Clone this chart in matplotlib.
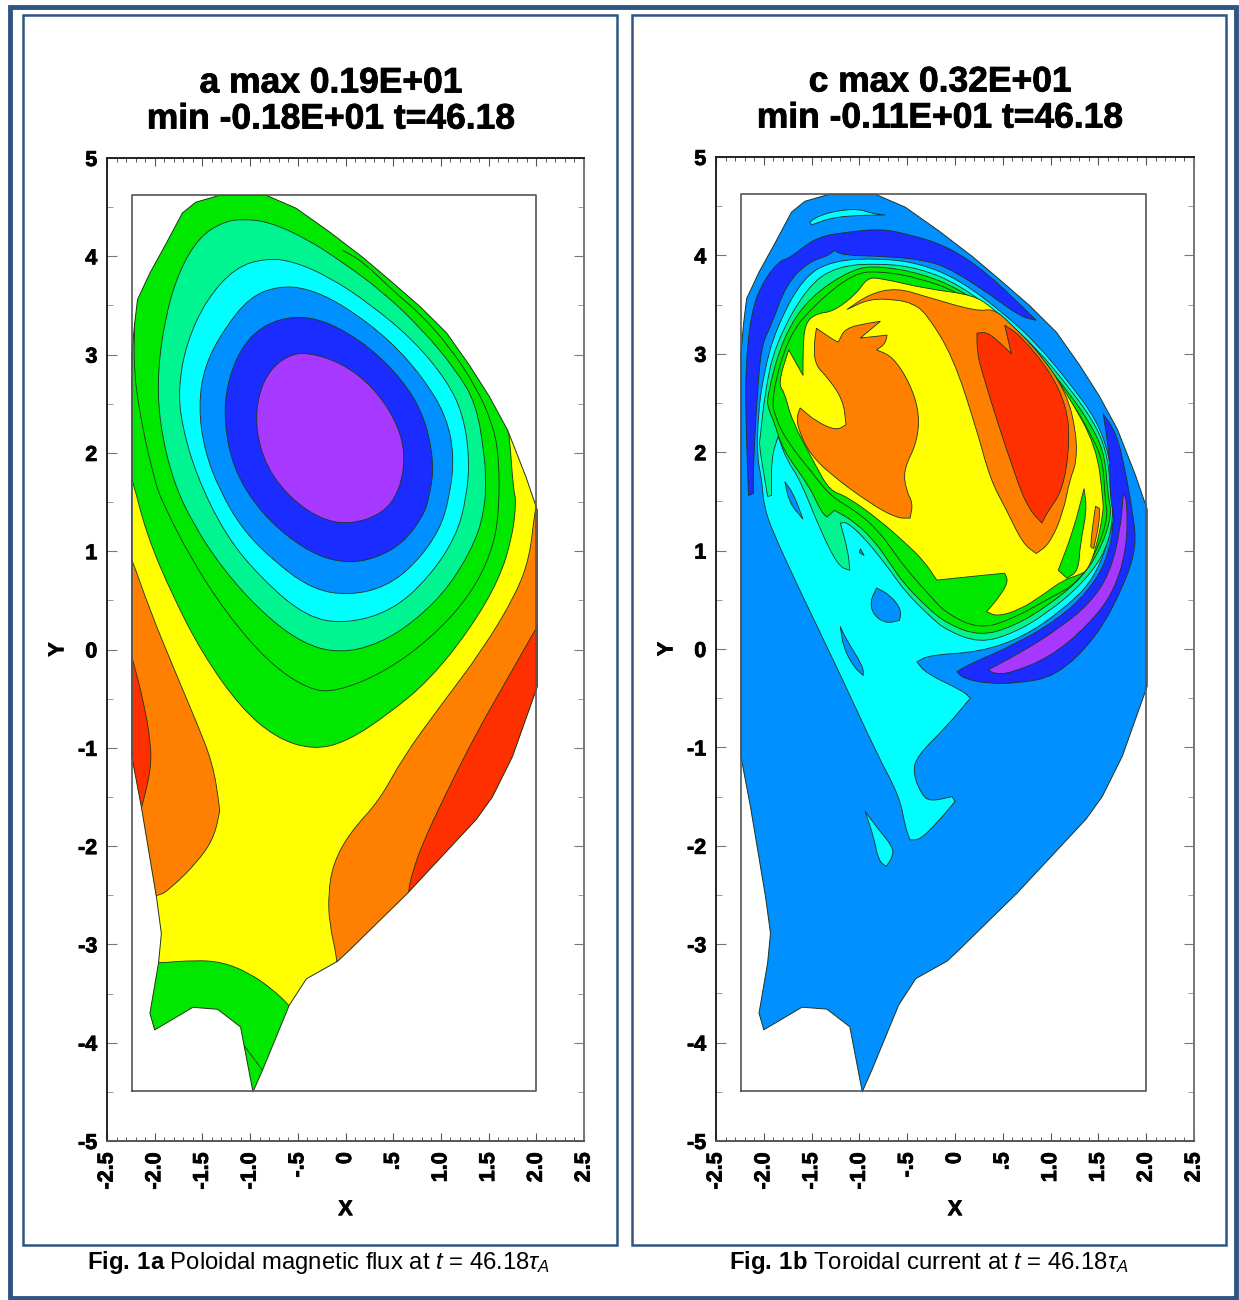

# Two contour panels: poloidal flux (a) and toroidal current (b)
import math
import matplotlib
matplotlib.use("Agg")
import matplotlib.pyplot as plt
import matplotlib.patheffects as pe
from matplotlib.patches import PathPatch, Rectangle
from matplotlib.path import Path
from matplotlib.ticker import MultipleLocator
from matplotlib.transforms import ScaledTranslation

plt.rcParams['font.family'] = ['Liberation Sans', 'DejaVu Sans']
plt.rcParams['mathtext.fontset'] = 'custom'
plt.rcParams['mathtext.rm'] = 'Liberation Sans'
plt.rcParams['mathtext.it'] = 'Liberation Sans:italic'
plt.rcParams['mathtext.bf'] = 'Liberation Sans:bold'
plt.rcParams['mathtext.fallback'] = 'stix'

# Colours of the contour bands
GREEN = '#00e800'
SPRING = '#00f590'
CYAN = '#00ffff'
SKY = '#0090ff'
BLUE = '#1a2cff'
PURPLE = '#a638ff'
YELLOW = '#ffff00'
ORANGE = '#ff8000'
RED = '#ff3000'
EDGE = '#1f331f'

# Text
title_a = "a max 0.19E+01\nmin -0.18E+01 t=46.18"
title_c = "c max 0.32E+01\nmin -0.11E+01 t=46.18"
caption_a = r"$\mathbf{Fig.\,1a}$ Poloidal magnetic flux at $t$ = 46.18$\tau_A$"
caption_b = r"$\mathbf{Fig.\,1b}$ Toroidal current at $t$ = 46.18$\tau_A$"
x_ticks = [-2.5, -2.0, -1.5, -1.0, -0.5, 0, 0.5, 1.0, 1.5, 2.0, 2.5]
x_tick_labels = ['-2.5', '-2.0', '-1.5', '-1.0', '-.5', '0', '.5', '1.0', '1.5', '2.0', '2.5']
y_ticks = [-5, -4, -3, -2, -1, 0, 1, 2, 3, 4, 5]

# Grid box and plasma outline, shared by the panels
box_x = [-2.24, 2.0]
box_y = [-4.49, 4.62]
outline = [(-2.24, 3.0), (-2.21, 3.32), (-2.18, 3.56), (-2.05, 3.83), (-1.88, 4.13), (-1.71, 4.44), (-1.57, 4.55),
           (-1.32, 4.62), (-0.83, 4.62), (-0.52, 4.49), (-0.17, 4.25), (0.18, 3.99), (0.46, 3.76), (0.78, 3.49),
           (1.06, 3.22), (1.3, 2.89), (1.51, 2.57), (1.7, 2.23), (1.89, 1.76), (2.01, 1.42), (2.01, -0.38),
           (1.75, -1.09), (1.54, -1.5), (1.37, -1.73), (0.65, -2.48), (0.04, -3.06), (-0.08, -3.17), (-0.41, -3.35),
           (-0.59, -3.62), (-0.87, -4.28), (-0.97, -4.5), (-1.1, -3.84), (-1.34, -3.66), (-1.6, -3.64), (-2.0, -3.87),
           (-2.05, -3.7), (-1.96, -3.19), (-1.93, -2.89), (-1.98, -2.53), (-2.14, -1.6), (-2.24, -1.09)]

# Panel a contours
a_green = [(-2.5, 2.4), (-2.25, 1.8), (-2.09, 1.18), (-1.81, 0.54), (-1.5, -0.04), (-1.11, -0.58), (-0.73, -0.9), (-0.34, -1.02),
           (0.01, -0.94), (0.46, -0.65), (0.88, -0.31), (1.3, 0.2), (1.61, 0.71), (1.75, 1.15), (1.79, 1.52), (1.76, 1.62),
           (1.72, 2.16), (1.7, 2.23), (2.5, 2.9), (2.5, 5), (-2.6, 5)]
a_green_line = [(-2.21, 3.32), (-2.22, 2.84), (-2.14, 2.3), (-2.0, 1.72), (-1.93, 1.52), (-1.63, 0.94), (-1.25, 0.37),
                (-0.8, -0.14), (-0.38, -0.41), (-0.1, -0.43), (0.39, -0.24), (0.88, 0.1), (1.3, 0.54), (1.53, 0.98),
                (1.61, 1.38), (1.61, 1.96), (1.54, 2.3), (1.37, 2.67), (1.09, 3.08), (0.78, 3.42), (0.53, 3.62),
                (0.18, 3.95), (-0.03, 4.06)]
a_spring = [(-1.08, 4.38), (-0.8, 4.35), (-0.41, 4.18), (-0.03, 3.94), (0.39, 3.64), (0.81, 3.25), (1.16, 2.84), (1.37, 2.5),
            (1.46, 1.96), (1.47, 1.69), (1.46, 1.45), (1.37, 1.11), (1.09, 0.64), (0.74, 0.3), (0.36, 0.06), (-0.06, -0.04),
            (-0.45, 0.06), (-0.87, 0.37), (-1.28, 0.81), (-1.6, 1.28), (-1.81, 1.72), (-1.95, 2.3), (-1.97, 2.84), (-1.88, 3.42),
            (-1.74, 3.86), (-1.53, 4.2), (-1.28, 4.35)]
a_cyan = [(-0.83, 3.98), (-0.55, 3.95), (-0.17, 3.79), (0.25, 3.52), (0.71, 3.15), (1.06, 2.74), (1.23, 2.4), (1.3, 1.96),
          (1.27, 1.55), (1.16, 1.15), (0.88, 0.74), (0.5, 0.4), (0.01, 0.26), (-0.41, 0.33), (-0.87, 0.71), (-1.25, 1.15),
          (-1.56, 1.76), (-1.72, 2.3), (-1.75, 2.67), (-1.67, 3.11), (-1.46, 3.56), (-1.15, 3.89)]
a_sky = [(-0.69, 3.7), (-0.38, 3.67), (0, 3.49), (0.46, 3.15), (0.81, 2.77), (1.06, 2.37), (1.14, 1.96), (1.09, 1.55),
         (0.99, 1.22), (0.74, 0.88), (0.43, 0.64), (0.04, 0.55), (-0.34, 0.61), (-0.73, 0.88), (-1.08, 1.22), (-1.32, 1.62),
         (-1.48, 2.03), (-1.54, 2.47), (-1.48, 2.88), (-1.28, 3.25), (-1.0, 3.59)]
a_blue = [(-0.52, 3.4), (-0.17, 3.33), (0.25, 3.08), (0.6, 2.74), (0.83, 2.37), (0.93, 1.89), (0.88, 1.55), (0.81, 1.35),
          (0.6, 1.08), (0.32, 0.93), (0.04, 0.88), (-0.27, 0.94), (-0.62, 1.15), (-0.95, 1.47), (-1.18, 1.86), (-1.27, 2.3),
          (-1.25, 2.67), (-1.11, 3.05), (-0.87, 3.3)]
a_purple = [(-0.38, 3.02), (-0.03, 2.91), (0.29, 2.67), (0.53, 2.33), (0.63, 1.99), (0.57, 1.62), (0.39, 1.38), (0.04, 1.27),
            (-0.27, 1.33), (-0.59, 1.55), (-0.83, 1.86), (-0.94, 2.23), (-0.92, 2.57), (-0.8, 2.84), (-0.59, 3.0)]
a_orange_left = [(-2.5, 1.55), (-2.25, 0.95), (-2.05, 0.4), (-1.81, -0.17), (-1.57, -0.72), (-1.39, -1.16), (-1.32, -1.6), (-1.32, -1.67),
                 (-1.39, -1.94), (-1.57, -2.18), (-1.81, -2.41), (-1.98, -2.53), (-2.6, -2.53)]
a_red_left = [(-2.5, 0.75), (-2.25, -0.03), (-2.12, -0.51), (-2.04, -0.95), (-2.04, -1.23), (-2.14, -1.62), (-2.6, -1.62)]
a_orange_right = [(2.1, 2.1), (1.98, 1.38), (1.93, 0.94), (1.79, 0.57), (1.44, 0.0), (0.99, -0.58), (0.6, -1.1), (0.36, -1.53), (0.04, -1.87),
                  (-0.13, -2.18), (-0.18, -2.48), (-0.17, -2.79), (-0.08, -3.17), (-0.08, -3.6), (2.6, -3.6), (2.6, 2.1)]
a_red_right = [(2.25, 0.62), (2.01, 0.24), (1.75, -0.21), (1.37, -0.85), (1.02, -1.53), (0.81, -1.97), (0.71, -2.24), (0.65, -2.48), (0.65, -3.0),
               (2.6, -3.0), (2.6, 0.62)]
a_green_bottom = [(-2.5, -3.2), (-1.96, -3.19), (-1.57, -3.16), (-1.29, -3.18), (-1.01, -3.29), (-0.76, -3.46), (-0.59, -3.62), (-0.3, -3.95),
                  (-0.3, -4.7), (-2.5, -4.7)]
a_green_bottom_line = [(-1.07, -4.02), (-0.87, -4.28)]

# Panel b contours
c_blue_top = [(-2.16, 1.56), (-2.19, 2.39), (-2.19, 2.87), (-2.13, 3.44), (-2.0, 3.75), (-1.83, 3.95), (-1.73, 3.97),
              (-1.45, 4.19), (-1.1, 4.24), (-0.78, 4.27), (-0.51, 4.22), (-0.09, 4.1), (0.33, 3.83), (0.85, 3.34),
              (0.68, 3.38), (0.4, 3.58), (-0.02, 3.85), (-0.3, 3.95), (-0.71, 3.99), (-1.17, 4.0), (-1.26, 4.05),
              (-1.34, 3.99), (-1.52, 3.94), (-1.76, 3.72), (-1.93, 3.27), (-2.02, 3.1), (-2.07, 2.6), (-2.11, 1.85),
              (-2.11, 1.58)]
c_cyan_top = [(-1.52, 4.34), (-1.41, 4.41), (-1.2, 4.46), (-0.99, 4.47), (-0.89, 4.43), (-0.73, 4.41), (-0.92, 4.41),
              (-1.27, 4.39), (-1.5, 4.31)]
c_cyan = [(-2.07, 1.95), (-2.06, 2.39), (-2.0, 2.8), (-1.88, 3.24), (-1.59, 3.78), (-1.27, 3.95), (-0.78, 3.97),
          (-0.37, 3.92), (0.05, 3.75), (0.51, 3.41), (0.85, 3.11), (1.2, 2.7), (1.48, 2.33), (1.62, 1.95), (1.66, 1.55),
          (1.69, 1.38), (1.48, 0.73), (1.13, 0.4), (0.71, 0.12), (0.26, -0.03), (-0.26, -0.06), (-0.4, -0.13),
          (-0.3, -0.25), (0.09, -0.43), (0.16, -0.5), (-0.09, -0.79), (-0.4, -1.09), (-0.44, -1.26), (-0.35, -1.48),
          (-0.26, -1.55), (-0.03, -1.5), (0.0, -1.55), (-0.19, -1.77), (-0.37, -1.94), (-0.47, -1.94), (-0.52, -1.81),
          (-0.58, -1.5), (-0.82, -1.06), (-1.17, -0.32), (-1.66, 0.67), (-1.9, 1.18), (-2.0, 1.45), (-2.02, 1.72)]
c_cyan_island = [(-0.94, -1.65), (-0.82, -1.81), (-0.65, -2.01), (-0.65, -2.11), (-0.72, -2.21), (-0.8, -2.15), (-0.85, -1.91)]
c_sky_blob = [(-0.82, 0.62), (-0.68, 0.55), (-0.56, 0.4), (-0.58, 0.29), (-0.72, 0.26), (-0.85, 0.34), (-0.89, 0.48)]
c_sky_sliver = [(-1.2, 0.23), (-1.15, 0.12), (-0.96, -0.18), (-0.96, -0.27), (-1.06, -0.18), (-1.17, 0.02)]
c_sky_small = [(-1.78, 1.7), (-1.69, 1.58), (-1.59, 1.32), (-1.73, 1.48)]
c_sky_tiny = [(-0.99, 1.02), (-0.95, 0.95), (-1.0, 0.98)]
c_spring = [(-2.04, 2.12), (-1.99, 2.6), (-1.88, 3.1), (-1.55, 3.68), (-1.24, 3.89), (-0.78, 3.92), (-0.37, 3.87),
            (0.05, 3.7), (0.51, 3.36), (0.85, 3.06), (1.2, 2.65), (1.48, 2.27), (1.6, 1.95), (1.63, 1.55), (1.66, 1.38),
            (1.59, 1.01), (1.34, 0.67), (0.96, 0.36), (0.61, 0.16), (0.26, 0.06), (-0.09, 0.19), (-0.26, 0.33),
            (-0.51, 0.57), (-0.68, 0.8), (-0.79, 0.94), (-0.96, 1.14), (-1.13, 1.29), (-1.2, 1.28), (-1.12, 1.0),
            (-1.1, 0.8), (-1.22, 0.84), (-1.41, 1.21), (-1.62, 1.72), (-1.76, 1.92), (-1.85, 2.16), (-1.92, 1.95),
            (-1.92, 1.56), (-1.96, 1.55), (-2.0, 1.78), (-2.05, 2.09)]
c_green = [(-1.97, 2.56), (-1.8, 3.17), (-1.52, 3.58), (-1.06, 3.87), (-0.78, 3.89), (-0.37, 3.82), (0.05, 3.66),
           (0.51, 3.33), (0.85, 3.0), (1.2, 2.6), (1.46, 2.22), (1.57, 1.95), (1.6, 1.55), (1.64, 1.38), (1.55, 1.07),
           (1.34, 0.73), (0.96, 0.43), (0.61, 0.23), (0.26, 0.13), (-0.09, 0.26), (-0.3, 0.43), (-0.54, 0.67),
           (-0.68, 0.87), (-0.82, 1.07), (-1.03, 1.28), (-1.26, 1.41), (-1.34, 1.34), (-1.41, 1.41), (-1.52, 1.65),
           (-1.8, 2.02), (-1.9, 2.33), (-1.95, 2.43)]
c_green2 = [(-1.92, 2.56), (-1.75, 3.17), (-1.47, 3.5), (-1.06, 3.82), (-0.78, 3.84), (-0.37, 3.77), (0.05, 3.62),
            (0.5, 3.3), (0.85, 2.95), (1.2, 2.55), (1.44, 2.15), (1.55, 1.9), (1.57, 1.5), (1.6, 1.35), (1.5, 1.03),
            (1.3, 0.68), (0.96, 0.5), (0.61, 0.31), (0.26, 0.2), (-0.09, 0.36), (-0.27, 0.55), (-0.5, 0.8), (-0.65, 1.0),
            (-0.8, 1.2), (-1.03, 1.4), (-1.3, 1.55), (-1.5, 1.8), (-1.75, 2.1), (-1.88, 2.35)]
c_yellow = [(-1.85, 2.7), (-1.74, 3.04), (-1.59, 2.78), (-1.59, 3.04), (-1.57, 3.31), (-1.45, 3.41), (-1.27, 3.43),
            (-1.03, 3.61), (-0.92, 3.77), (-0.78, 3.77), (-0.3, 3.66), (0.19, 3.6), (0.4, 3.46), (0.61, 3.27), (0.89, 3.0),
            (1.17, 2.6), (1.48, 2.06), (1.55, 1.51), (1.55, 1.38), (1.48, 1.04), (1.39, 0.8), (1.29, 0.75), (1.13, 0.7),
            (0.92, 0.55), (0.68, 0.4), (0.44, 0.33), (0.33, 0.38), (0.44, 0.5), (0.56, 0.68), (0.52, 0.77), (0.3, 0.75),
            (-0.19, 0.7), (-0.33, 0.9), (-0.51, 1.07), (-0.79, 1.31), (-1.13, 1.55), (-1.31, 1.61), (-1.45, 1.85),
            (-1.71, 2.33), (-1.78, 2.6)]
c_green_finger = [(1.35, 1.63), (1.38, 1.41), (1.31, 1.07), (1.29, 0.79), (1.17, 0.72), (1.08, 0.8), (1.24, 1.21)]
c_orange_left = [(-1.45, 3.26), (-1.27, 3.14), (-1.22, 3.12), (-1.15, 3.26), (-0.92, 3.31), (-0.78, 3.33), (-0.99, 3.16),
                 (-0.71, 3.19), (-0.73, 3.1), (-0.82, 3.04), (-0.65, 2.97), (-0.47, 2.7), (-0.37, 2.39), (-0.4, 2.09),
                 (-0.54, 1.82), (-0.51, 1.61), (-0.44, 1.48), (-0.47, 1.33), (-0.61, 1.33), (-0.89, 1.48), (-1.31, 1.78),
                 (-1.52, 1.99), (-1.62, 2.19), (-1.66, 2.34), (-1.62, 2.45), (-1.45, 2.31), (-1.24, 2.22), (-1.14, 2.28),
                 (-1.17, 2.53), (-1.34, 2.77), (-1.45, 2.87), (-1.48, 3.04)]
c_orange_right = [(-1.13, 3.45), (-0.89, 3.61), (-0.61, 3.67), (-0.3, 3.58), (0.23, 3.43), (0.4, 3.46), (0.58, 3.31),
                  (0.89, 3.0), (1.17, 2.6), (1.27, 2.19), (1.27, 1.89), (1.2, 1.72), (1.13, 1.38), (0.99, 1.07), (0.85, 0.97),
                  (0.71, 1.07), (0.54, 1.41), (0.37, 1.72), (0.23, 2.22), (-0.02, 2.97), (-0.3, 3.41), (-0.44, 3.51),
                  (-0.61, 3.55), (-0.89, 3.56)]
c_orange_sliver = [(1.47, 1.45), (1.51, 1.43), (1.51, 1.28), (1.45, 1.02), (1.42, 1.04), (1.43, 1.18)]
c_red = [(0.23, 3.21), (0.33, 3.22), (0.44, 3.14), (0.59, 3.0), (0.52, 3.29), (0.68, 3.19), (0.99, 2.83), (1.17, 2.46),
         (1.2, 2.09), (1.13, 1.62), (0.96, 1.38), (0.91, 1.28), (0.78, 1.41), (0.64, 1.72), (0.26, 2.87), (0.23, 3.07)]
c_blue_low = [(0.02, -0.23), (0.16, -0.15), (0.61, 0.04), (1.06, 0.29), (1.38, 0.57), (1.59, 0.9), (1.67, 1.31), (1.62, 1.55),
              (1.62, 1.95), (1.55, 2.39), (1.69, 2.19), (1.78, 1.82), (1.86, 1.38), (1.9, 1.04), (1.76, 0.63), (1.48, 0.12),
              (1.06, -0.28), (0.64, -0.35), (0.33, -0.35), (0.09, -0.3)]
c_purple = [(0.35, -0.21), (0.68, -0.04), (1.06, 0.19), (1.41, 0.46), (1.62, 0.77), (1.73, 1.21), (1.76, 1.58), (1.8, 1.51),
            (1.8, 1.04), (1.66, 0.57), (1.38, 0.23), (1.0, -0.08), (0.57, -0.25), (0.4, -0.25)]


def turn_angle(a, b, c):
    ang = math.atan2(c[1] - b[1], c[0] - b[0]) - math.atan2(b[1] - a[1], b[0] - a[0])
    ang = abs((ang + math.pi) % (2 * math.pi) - math.pi)
    return math.degrees(ang)


# Curve through midpoints of the read points, keeping sharp corners sharp
def smooth_path(pts, closed=True):
    n = len(pts)
    if closed:
        mid = [((pts[i][0] + pts[(i + 1) % n][0]) / 2, (pts[i][1] + pts[(i + 1) % n][1]) / 2) for i in range(n)]
        verts = [mid[-1]]
        codes = [Path.MOVETO]
        idx = range(n)
    else:
        mid = [((pts[i][0] + pts[i + 1][0]) / 2, (pts[i][1] + pts[i + 1][1]) / 2) for i in range(n - 1)]
        verts = [pts[0], mid[0]]
        codes = [Path.MOVETO, Path.LINETO]
        idx = range(1, n - 1)
    for i in idx:
        if turn_angle(pts[i - 1], pts[i], pts[(i + 1) % n]) > 60:
            codes += [Path.LINETO, Path.LINETO]
        else:
            codes += [Path.CURVE3, Path.CURVE3]
        verts += [pts[i], mid[i]]
    if not closed:
        verts.append(pts[-1])
        codes.append(Path.LINETO)
    return Path(verts, codes)


def add_band(ax, pts, color, clip):
    patch = PathPatch(smooth_path(pts), facecolor=color, edgecolor=EDGE, linewidth=0.6, zorder=3)
    ax.add_patch(patch)
    patch.set_clip_path(clip)


def add_line(ax, pts, clip):
    patch = PathPatch(smooth_path(pts, closed=False), fill=False, edgecolor=EDGE, linewidth=0.6, zorder=3)
    ax.add_patch(patch)
    patch.set_clip_path(clip)


heavy = [pe.withStroke(linewidth=0.6, foreground='black')]


def style_axes(ax):
    ax.set_xlim(-2.5, 2.5)
    ax.set_ylim(-5, 5)
    ax.set_xticks(x_ticks)
    ax.set_xticklabels(x_tick_labels, rotation=90, fontweight='bold', fontsize=15.5, path_effects=heavy)
    # rotated labels sit a little left of their ticks otherwise
    for lbl in ax.get_xticklabels():
        lbl.set_transform(lbl.get_transform() + ScaledTranslation(2 / 100, 0, ax.figure.dpi_scale_trans))
    ax.set_yticks(y_ticks)
    ax.set_yticklabels([str(v) for v in y_ticks], fontweight='bold', fontsize=15.5, path_effects=heavy)
    ax.xaxis.set_minor_locator(MultipleLocator(0.1))
    ax.yaxis.set_minor_locator(MultipleLocator(0.5))
    ax.tick_params(axis='x', which='major', direction='in', top=True, length=6, width=0.8, pad=8, color='#555555')
    ax.tick_params(axis='x', which='minor', direction='in', top=True, length=3, width=0.7, color='#555555')
    ax.tick_params(axis='y', which='major', direction='in', right=True, length=7, width=0.8, pad=7, color='#777777')
    ax.tick_params(axis='y', which='minor', direction='in', right=True, length=4, width=0.7, color='#999999')
    ax.set_xlabel('X', fontweight='bold', fontsize=15.5, labelpad=7, path_effects=heavy)
    ax.set_ylabel('Y', fontweight='bold', fontsize=15.5, labelpad=7, path_effects=heavy)
    for side in ax.spines:
        ax.spines[side].set_linewidth(1.4)
    ax.spines['top'].set_color('#222222')
    ax.spines['left'].set_color('#222222')
    ax.spines['right'].set_color('#777777')
    ax.spines['bottom'].set_color('#555555')
    # grid box
    ax.plot([box_x[0], box_x[1], box_x[1], box_x[0], box_x[0]],
            [box_y[0], box_y[0], box_y[1], box_y[1], box_y[0]], color='#555555', linewidth=1.2, zorder=5)


def draw_outline(ax, color):
    base = PathPatch(Path(outline + [outline[0]], closed=True), facecolor=color, edgecolor='none', zorder=2)
    ax.add_patch(base)
    xs = [p[0] for p in outline] + [outline[0][0]]
    ys = [p[1] for p in outline] + [outline[0][1]]
    ax.plot(xs, ys, color=EDGE, linewidth=0.7, zorder=4)
    return base


W, H = 1239, 1300
fig = plt.figure(figsize=(W / 100, H / 100), dpi=100)

# Page frames
page = fig.add_axes([0, 0, 1, 1])
page.set_xlim(0, W)
page.set_ylim(H, 0)
page.axis('off')
page.add_patch(Rectangle((10, 7), 1226, 1291, fill=False, edgecolor='#2f5580', linewidth=3.5))
page.add_patch(Rectangle((23, 15), 594, 1230, fill=False, edgecolor='#2f5580', linewidth=1.8))
page.add_patch(Rectangle((632, 15), 594, 1230, fill=False, edgecolor='#2f5580', linewidth=1.8))
page.text(319, 1262, caption_a, ha='center', va='center', fontsize=17.2)
page.text(929, 1262, caption_b, ha='center', va='center', fontsize=17.2)
page.text(331, 101, title_a, ha='center', va='center', fontsize=25.5, fontweight='bold', linespacing=1.12, path_effects=heavy)
page.text(940, 100, title_c, ha='center', va='center', fontsize=25.5, fontweight='bold', linespacing=1.12, path_effects=heavy)

# Panel a
ax_a = fig.add_axes([107 / W, 1 - 1141 / H, 477 / W, 983 / H])
style_axes(ax_a)
base_a = draw_outline(ax_a, YELLOW)
for band, color in [(a_orange_left, ORANGE), (a_red_left, RED), (a_orange_right, ORANGE), (a_red_right, RED),
                    (a_green_bottom, GREEN), (a_green, GREEN)]:
    add_band(ax_a, band, color, base_a)
add_line(ax_a, a_green_line, base_a)
add_line(ax_a, a_green_bottom_line, base_a)
for band, color in [(a_spring, SPRING), (a_cyan, CYAN), (a_sky, SKY), (a_blue, BLUE), (a_purple, PURPLE)]:
    add_band(ax_a, band, color, base_a)

# Panel b
ax_c = fig.add_axes([716 / W, 1 - 1141 / H, 478 / W, 984 / H])
style_axes(ax_c)
base_c = draw_outline(ax_c, SKY)
for band, color in [(c_blue_top, BLUE), (c_cyan_top, CYAN), (c_cyan, CYAN), (c_cyan_island, CYAN), (c_sky_blob, SKY),
                    (c_sky_sliver, SKY), (c_sky_small, SKY), (c_sky_tiny, SKY), (c_spring, SPRING), (c_green, GREEN),
                    (c_green2, GREEN), (c_yellow, YELLOW), (c_green_finger, GREEN), (c_orange_left, ORANGE),
                    (c_orange_right, ORANGE), (c_orange_sliver, ORANGE), (c_red, RED), (c_blue_low, BLUE),
                    (c_purple, PURPLE)]:
    add_band(ax_c, band, color, base_c)

fig.savefig('out.png', dpi=100)
